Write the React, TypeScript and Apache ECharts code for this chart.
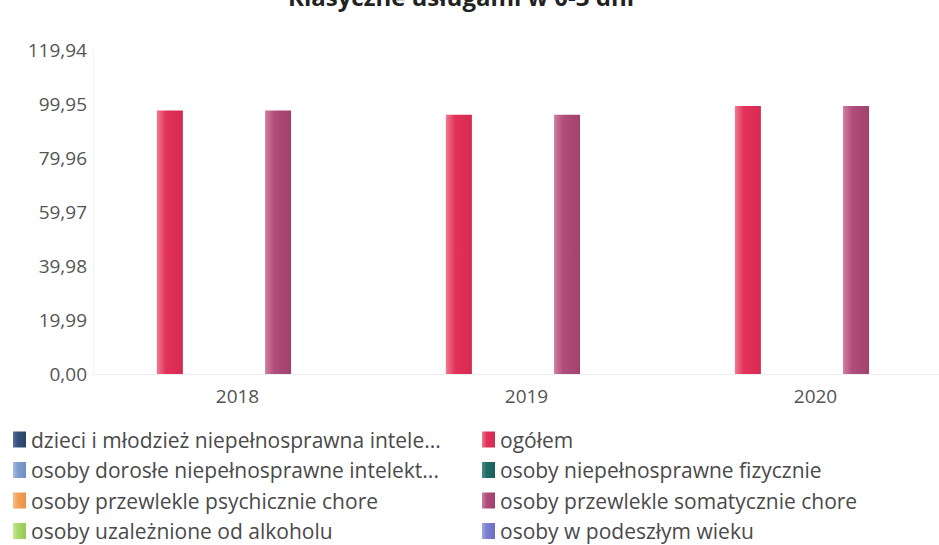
import React, { useEffect, useRef } from "react";
import * as echarts from "echarts";

const titleText = "Klasyczne usługami w 0-3 dni";
const categories = ["2018", "2019", "2020"];
const seriesNames = [
  "dzieci i młodzież niepełnosprawna intelektualnie",
  "ogółem",
  "osoby dorosłe niepełnosprawne intelektualnie",
  "osoby niepełnosprawne fizycznie",
  "osoby przewlekle psychicznie chore",
  "osoby przewlekle somatycznie chore",
  "osoby uzależnione od alkoholu",
  "osoby w podeszłym wieku",
];
const dzieci = [0, 0, 0];
const ogolem = [97.5, 96.0, 99.2];
const dorosle = [0, 0, 0];
const fizycznie = [0, 0, 0];
const psychicznie = [0, 0, 0];
const somatycznie = [97.5, 96.0, 99.2];
const alkohol = [0, 0, 0];
const wiek = [0, 0, 0];
const seriesValues = [dzieci, ogolem, dorosle, fizycznie, psychicznie, somatycznie, alkohol, wiek];
const yTicks = [0, 19.99, 39.98, 59.97, 79.96, 99.95, 119.94];

const colors = [
  ["#5a7099", "#34507a", "#2b4468"],
  ["#f07a8e", "#e3325a", "#d52a4f"],
  ["#a9bde0", "#7f9fd0", "#6e8fc2"],
  ["#4b8f86", "#1f6f66", "#195e57"],
  ["#f8c08c", "#f4a259", "#e8914a"],
  ["#d07ea0", "#b14d7b", "#a0416d"],
  ["#c6ea9a", "#a8d96b", "#96c95a"],
  ["#a2a5e0", "#7c80cf", "#6c70c2"],
];

export default function App() {
  const ref = useRef<HTMLDivElement>(null);
  useEffect(() => {
    if (!ref.current) return;
    const chart = echarts.init(ref.current, undefined, { renderer: "svg" });
    const leftIdx = [0, 2, 4, 6];
    const rightIdx = [1, 3, 5, 7];
    const truncWidths: Record<number, number> = { 0: 452, 2: 435 };
    const legendBase = {
      orient: "vertical" as const,
      top: 429,
      height: 160,
      itemWidth: 13,
      itemHeight: 16,
      itemGap: 9.5,
      icon: "rect",
      padding: 0,
      textStyle: {
        fontFamily: "'Open Sans', sans-serif",
        fontSize: 21,
        color: "#4a4a4a",
        overflow: "truncate" as const,
        ellipsis: "...",
      },
    };
    const legendItems = (idx: number[]) =>
      idx.map((i) =>
        truncWidths[i]
          ? { name: seriesNames[i], textStyle: { width: truncWidths[i], overflow: "truncate", ellipsis: "..." } }
          : { name: seriesNames[i] }
      );
    chart.setOption({
      animation: false,
      backgroundColor: "#ffffff",
      title: {
        text: titleText,
        left: 283,
        top: -21,
        textStyle: { fontSize: 24, fontWeight: "bold", color: "#222", fontFamily: "'Open Sans', sans-serif" },
      },
      legend: [
        { ...legendBase, left: 13, data: legendItems(leftIdx) },
        { ...legendBase, left: 482, data: legendItems(rightIdx) },
      ],
      grid: { left: 93, top: 50, width: 867, height: 324, containLabel: false },
      xAxis: {
        type: "category",
        data: categories,
        axisLine: { show: true, lineStyle: { color: "#eeeeee" } },
        axisTick: { show: false },
        axisLabel: { fontSize: 19, color: "#555", margin: 12, fontFamily: "'Open Sans', sans-serif" },
      },
      yAxis: {
        type: "value",
        min: 0,
        max: yTicks[yTicks.length - 1],
        interval: yTicks[1],
        axisLine: { show: true, lineStyle: { color: "#f2f2f2" } },
        axisTick: { show: false },
        splitLine: { show: false },
        axisLabel: {
          fontSize: 19,
          color: "#555",
          margin: 6,
          fontFamily: "'Open Sans', sans-serif",
          formatter: (v: number) => v.toFixed(2).replace(".", ","),
        },
      },
      series: seriesNames.map((name, i) => ({
        name,
        type: "bar",
        data: seriesValues[i],
        barWidth: 26,
        barGap: "4%",
        itemStyle: {
          color: new echarts.graphic.LinearGradient(0, 0, 1, 0, [
            { offset: 0, color: colors[i][0] },
            { offset: 0.35, color: colors[i][1] },
            { offset: 1, color: colors[i][2] },
          ]),
        },
      })),
      color: colors.map((c) => c[1]),
    });
    return () => chart.dispose();
  }, []);
  return (
    <div style={{ width: 939, height: 545, position: "absolute", left: 0, top: 0, overflow: "hidden" }}>
      <div ref={ref} style={{ width: 980, height: 600 }} />
    </div>
  );
}
